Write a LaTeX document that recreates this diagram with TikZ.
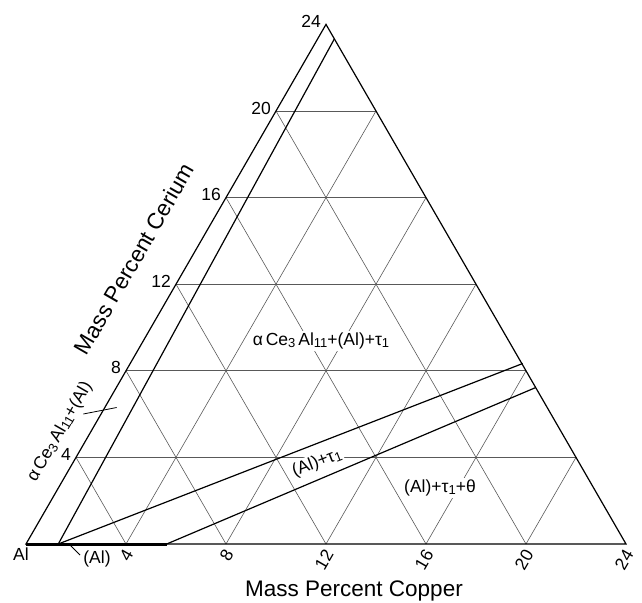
\documentclass[tikz,border=0pt]{standalone}
\usepackage{fontspec}
\setmainfont{Liberation Sans}
\newcommand\mysub[1]{\raisebox{-2pt}{\fontsize{13}{13}\selectfont #1}}
\begin{document}
\begin{tikzpicture}[x=1pt,y=-1pt,
  gridline/.style={black!65, line width=0.6pt},
  frame/.style={black, line width=1.2pt},
  phase/.style={black, line width=1.2pt},
  bar/.style={black, line width=3pt},
  leader/.style={black, line width=0.8pt},
  ticklab/.style={font=\fontsize{17.5}{19}\selectfont, inner sep=0pt},
  plabel/.style={font=\fontsize{17.5}{19}\selectfont, fill=white, inner sep=1.5pt},
  axlabel/.style={font=\fontsize{22.5}{24}\selectfont, inner sep=0pt}
]
\useasboundingbox (0,0) rectangle (642,602);
% corners
\coordinate (Al) at (26,544);
\coordinate (Cu) at (626,544);
\coordinate (Ce) at (326,24.4);
% grid
\foreach \k in {4,8,12,16,20}{
  \draw[gridline] ({26+12.5*\k},{544-21.6506*\k}) -- ({626-12.5*\k},{544-21.6506*\k});
  \draw[gridline] ({26+25*\k},544) -- ({326+12.5*\k},{544-21.6506*(24-\k)});
  \draw[gridline] ({26+25*\k},544) -- ({26+12.5*\k},{544-21.6506*\k});
}
% tick labels
\foreach \k in {4,8,12,16,20,24}{
  \node[ticklab, anchor=east] at ({26+12.5*\k-5},{544-21.6506*\k-3}) {\k};
  \node[ticklab, anchor=east, rotate=60] at ({26+25*\k+3},551) {\k};
}
% phase labels
\node[plabel] (l1) at (321,341) {α\,Ce\mysub{3}\,Al\mysub{11}+(Al)+τ\mysub{1}};
\node[plabel, rotate=21] (l2) at (317,463) {(Al)+τ\mysub{1}};
\node[plabel] (l3) at (440,488) {(Al)+τ\mysub{1}+θ};
\node[font=\fontsize{17.5}{19}\selectfont, inner sep=0pt, rotate=60] (l4) at (60,432) {α\,Ce\mysub{3}\,Al\mysub{11}+(Al)};
\node[font=\fontsize{17.5}{19}\selectfont, inner sep=0pt] (l5) at (97,559) {(Al)};
\node[font=\fontsize{17.5}{19}\selectfont, inner sep=0pt] (lAl) at (21,554) {Al};
% axis titles
\node[axlabel, rotate=60] (tce) at (134,259) {Mass Percent Cerium};
\node[axlabel, anchor=base] (tcu) at (354,596) {Mass Percent Copper};
% frame
\draw[frame] (Al) -- (Cu) -- (Ce) -- cycle;
% phase boundaries
\coordinate (p0) at (58.3,544);
\coordinate (p1) at (334.3,39);
\coordinate (p2) at (522.7,363.5);
\coordinate (p3) at (166.7,544);
\coordinate (p4) at (535.8,387.5);
\draw[phase] (p0) -- (p1);
\draw[phase] (p0) -- (p2);
\draw[phase] (p3) -- (p4);
\draw[bar] (Al) -- (p3);
% leaders
\coordinate (q1) at (69.3,544.3);
\coordinate (q2) at (80,555);
\coordinate (q3) at (83.3,414);
\coordinate (q4) at (116.7,407.5);
\draw[leader] (q1) -- (q2);
\draw[leader] (q3) -- (q4);
\end{tikzpicture}
\end{document}
